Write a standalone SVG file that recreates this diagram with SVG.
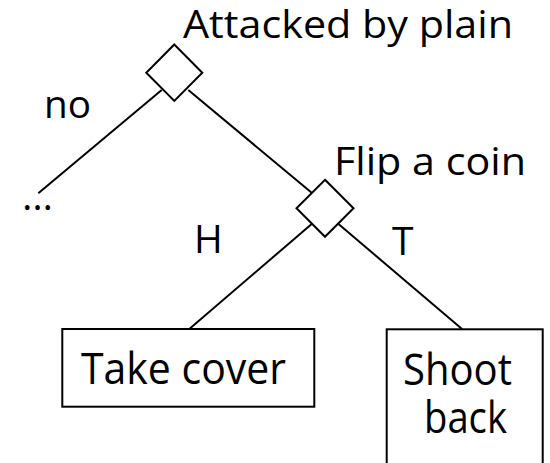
<svg xmlns="http://www.w3.org/2000/svg" width="550" height="463" viewBox="0 0 550 463">
<style>
.ln{stroke:#000;stroke-width:2;fill:none}
.dm{stroke:#000;stroke-width:2;fill:#fff}
.bx{stroke:#000;stroke-width:2;fill:#fff}
.t{font-family:"Open Sans","Liberation Sans",sans-serif;fill:#000}
.lb{font-size:39px}
.bt{font-size:43px}
</style>
<rect width="550" height="463" fill="#fff"/>
<g id="connectors">
<line class="ln" x1="161.7" y1="90" x2="38.3" y2="193.3"/>
<line class="ln" x1="188.3" y1="90" x2="311.7" y2="192.7"/>
<line class="ln" x1="311.7" y1="224" x2="189.3" y2="329"/>
<line class="ln" x1="338.5" y1="224" x2="462" y2="329"/>
</g>
<g id="node-attacked">
<polygon class="dm" points="174.3,44.5 202.3,72.7 174.3,100.9 146.3,72.7"/>
<text class="t lb" x="183" y="37.5" textLength="330" lengthAdjust="spacingAndGlyphs">Attacked by plain</text>
</g>
<g id="label-no">
<text class="t lb" x="44" y="118.3" textLength="47" lengthAdjust="spacingAndGlyphs">no</text>
</g>
<g id="node-ellipsis">
<text class="t lb" x="22" y="210" textLength="31" lengthAdjust="spacingAndGlyphs">…</text>
</g>
<g id="node-flip">
<polygon class="dm" points="325,179.8 353.5,208.3 325,236.8 296.5,208.3"/>
<text class="t lb" x="334" y="175" textLength="192" lengthAdjust="spacingAndGlyphs">Flip a coin</text>
</g>
<g id="label-H">
<text class="t lb" x="194" y="253.3">H</text>
</g>
<g id="label-T">
<text class="t lb" x="392" y="254.5">T</text>
</g>
<g id="node-take-cover">
<rect class="bx" x="62.3" y="329" width="252" height="77.7"/>
<text class="t bt" x="81" y="384" textLength="205" lengthAdjust="spacingAndGlyphs">Take cover</text>
</g>
<g id="node-shoot-back">
<rect class="bx" x="386.7" y="329.3" width="156" height="150"/>
<text class="t bt" x="403" y="385" textLength="109" lengthAdjust="spacingAndGlyphs">Shoot</text>
<text class="t bt" x="424" y="433.3" textLength="83" lengthAdjust="spacingAndGlyphs">back</text>
</g>
</svg>
